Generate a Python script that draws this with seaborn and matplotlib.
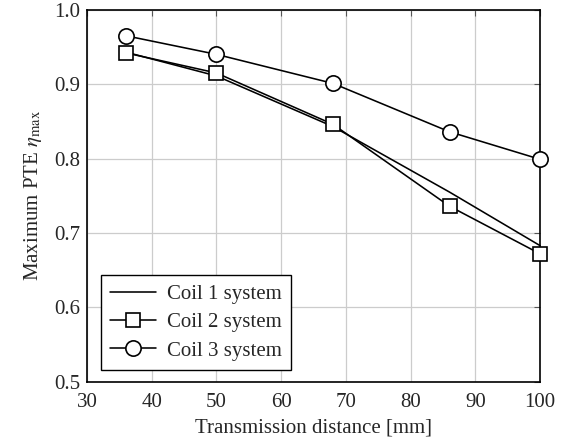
import matplotlib
matplotlib.use("Agg")
import matplotlib.pyplot as plt
import seaborn as sns
import pandas as pd

distance = [36, 50, 68, 86, 100]
coil1 = [0.943, 0.911, 0.843, 0.755, 0.683]
coil2 = [0.942, 0.915, 0.846, 0.736, 0.672]
coil3 = [0.965, 0.940, 0.901, 0.836, 0.799]
series_names = ["Coil 1 system", "Coil 2 system", "Coil 3 system"]
x_ticks = [30, 40, 50, 60, 70, 80, 90, 100]
y_ticks = [0.5, 0.6, 0.7, 0.8, 0.9, 1.0]

sns.set_style("white")
plt.rcParams["font.family"] = ["Liberation Serif", "DejaVu Serif"]
plt.rcParams["mathtext.fontset"] = "stix"

fig = plt.figure(figsize=(5.65, 4.41), dpi=100)
ax = fig.add_axes([0.154, 0.134, 0.802, 0.844])

markers = [None, "s", "o"]
for name, vals, mk in zip(series_names, [coil1, coil2, coil3], markers):
    df = pd.DataFrame({"x": distance, "y": vals})
    kw = {}
    if mk is not None:
        kw = dict(marker=mk, markersize=11 if mk == "o" else 10.5,
                  markerfacecolor="white", markeredgecolor="black",
                  markeredgewidth=1.2)
    sns.lineplot(data=df, x="x", y="y", ax=ax, color="black", linewidth=1.15,
                 label=name, clip_on=False, zorder=3, **kw)

ax.set_xlim(30, 100)
ax.set_ylim(0.5, 1.0)
ax.set_xticks(x_ticks)
ax.set_yticks(y_ticks)
ax.set_xticklabels([str(t) for t in x_ticks])
ax.set_yticklabels([f"{t:.1f}" for t in y_ticks])
ax.grid(True, color="#cccccc", linewidth=0.9)
ax.set_axisbelow(True)
ax.tick_params(direction="in", length=4, width=0.8, color="#555555",
               top=True, right=True, labelsize=15)
ax.tick_params(axis="x", pad=8)
ax.tick_params(axis="y", pad=5)
for s in ax.spines.values():
    s.set_color("black")
    s.set_linewidth(1.2)
    s.set_zorder(2.5)
ax.set_xlabel("Transmission distance [mm]", fontsize=15, labelpad=5)
ax.set_ylabel(r"Maximum PTE $\eta_{\mathrm{max}}$", fontsize=15, labelpad=7)

leg = ax.legend(loc="lower left", fontsize=15, frameon=True, fancybox=False,
                edgecolor="black", framealpha=1, borderpad=0.45,
                handlelength=2.2, labelspacing=0.42, handletextpad=0.5,
                borderaxespad=0, bbox_to_anchor=(0.031, 0.032))
leg.get_frame().set_linewidth(1.0)
leg.set_zorder(5)

fig.savefig("out.png", dpi=100)
